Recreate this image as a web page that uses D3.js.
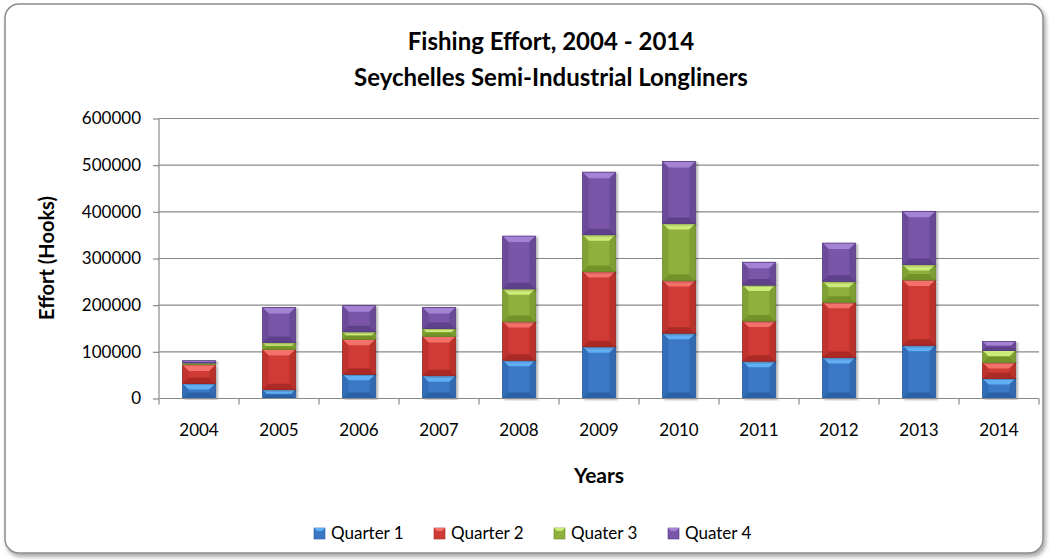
<!DOCTYPE html>
<html><head><meta charset="utf-8">
<script src="https://cdn.jsdelivr.net/npm/d3@7"></script>
<style>body{margin:0;background:#fff;}svg{display:block;font-family:Lato,"Open Sans",sans-serif;}</style>
</head><body><svg id="c" width="1050" height="560"></svg>
<script>
const years = ["2004","2005","2006","2007","2008","2009","2010","2011","2012","2013","2014"];
const quarter1 = [32000,19000,52000,49000,82000,111000,140000,80000,88000,114000,43000];
const quarter2 = [40000,86000,75000,84000,83000,161000,113000,86000,118000,140000,34000];
const quarter3 = [4000,15000,16000,17000,70000,79000,122000,77000,45000,33000,26000];
const quarter4 = [5000,75000,56000,45000,113000,134000,133000,49000,82000,114000,19000];
const seriesNames = ["Quarter 1","Quarter 2","Quater 3","Quater 4"];
const yTicks = [0,100000,200000,300000,400000,500000,600000];

const colors = [
  {base:"#3A78C6", light:"#62AEF2", dark:"#255A9E"},
  {base:"#D13B36", light:"#F3716A", dark:"#9E2522"},
  {base:"#8EB13C", light:"#CCEB78", dark:"#6A8A24"},
  {base:"#7A55A8", light:"#A583D4", dark:"#573A82"}
];

const svg = d3.select("#c");
const defs = svg.append("defs");
const f = defs.append("filter").attr("id","sh").attr("x","-10%").attr("y","-10%").attr("width","130%").attr("height","130%");
f.append("feDropShadow").attr("dx",2).attr("dy",3).attr("stdDeviation",2).attr("flood-color","#000").attr("flood-opacity",0.35);
const f2 = defs.append("filter").attr("id","bsh").attr("x","-20%").attr("y","-5%").attr("width","150%").attr("height","110%");
f2.append("feDropShadow").attr("dx",2).attr("dy",1).attr("stdDeviation",1.2).attr("flood-color","#000").attr("flood-opacity",0.3);

// chart frame
svg.append("rect").attr("x",5).attr("y",4).attr("width",1038).attr("height",549).attr("rx",14)
  .attr("fill","#fff").attr("stroke","#8c8c8c").attr("stroke-width",1.5).attr("filter","url(#sh)");

const m = {left:159, right:1039, top:118.5, bottom:398.5};
const x = d3.scaleBand().domain(years).range([m.left,m.right]).paddingInner(0.59).paddingOuter(0.295);
const xb = d3.scaleBand().domain(years).range([m.left,m.right]);
const y = d3.scaleLinear().domain([0,600000]).range([m.bottom,m.top]);

// gridlines
svg.append("g").selectAll("line").data(yTicks.slice(1)).join("line")
  .attr("x1",m.left).attr("x2",m.right).attr("y1",d=>y(d)).attr("y2",d=>y(d))
  .attr("stroke","#8a8a8a").attr("stroke-width",1.2);

// y axis
const ya = svg.append("g").attr("transform",`translate(${m.left},0)`)
  .call(d3.axisLeft(y).tickValues(yTicks).tickSize(6).tickPadding(12).tickFormat(d3.format("d")));
ya.select(".domain").attr("stroke","#8a8a8a").attr("stroke-width",1.2).attr("d",`M0,${m.top}V${m.bottom}`);
ya.selectAll(".tick line").attr("stroke","#8a8a8a").attr("stroke-width",1.2);
ya.selectAll("text").attr("font-size",17).attr("fill","#000").attr("font-family","Lato,'Open Sans',sans-serif");

// stacked data
const rows = years.map((yr,i)=>({year:yr, q1:quarter1[i], q2:quarter2[i], q3:quarter3[i], q4:quarter4[i]}));
const stack = d3.stack().keys(["q1","q2","q3","q4"])(rows);

const bars = svg.append("g");
stack.forEach((s,si)=>{
  const c = colors[si];
  const g = bars.append("g");
  s.forEach(d=>{
    const x0 = x(d.data.year), w = x.bandwidth();
    const yt = y(d[1]), yb = y(d[0]), h = yb-yt;
    const e = Math.min(6, h/2.2);
    const gg = g.append("g").attr("filter","url(#bsh)");
    gg.append("rect").attr("x",x0).attr("y",yt).attr("width",w).attr("height",h).attr("fill",c.base);
    gg.append("polygon").attr("points",`${x0},${yt} ${x0+w},${yt} ${x0+w-e},${yt+e} ${x0+e},${yt+e}`).attr("fill",c.light);
    gg.append("polygon").attr("points",`${x0},${yb} ${x0+w},${yb} ${x0+w-e},${yb-e} ${x0+e},${yb-e}`).attr("fill",c.dark).attr("opacity",0.75);
    gg.append("polygon").attr("points",`${x0},${yt} ${x0+e},${yt+e} ${x0+e},${yb-e} ${x0},${yb}`).attr("fill",c.dark).attr("opacity",0.35);
    gg.append("polygon").attr("points",`${x0+w},${yt} ${x0+w-e},${yt+e} ${x0+w-e},${yb-e} ${x0+w},${yb}`).attr("fill",c.dark).attr("opacity",0.45);
    gg.append("rect").attr("x",x0).attr("y",yt).attr("width",w).attr("height",h).attr("fill","none").attr("stroke",c.dark).attr("stroke-width",0.8);
  });
});

// x axis
const xa = svg.append("g").attr("transform",`translate(0,${m.bottom})`)
  .call(d3.axisBottom(x).tickSize(0).tickPadding(25));
xa.select(".domain").attr("stroke","#8a8a8a").attr("stroke-width",1.2).attr("d",`M${m.left},0H${m.right}`);
xa.selectAll("text").attr("font-size",17).attr("fill","#000").attr("font-family","Lato,'Open Sans',sans-serif");
const bounds = years.map(d=>xb(d)).concat([m.right]);
xa.append("g").selectAll("line").data(bounds).join("line")
  .attr("x1",d=>d).attr("x2",d=>d).attr("y1",0).attr("y2",6).attr("stroke","#8a8a8a").attr("stroke-width",1.2);

// titles
svg.append("text").attr("x",551).attr("y",50).attr("text-anchor","middle").attr("font-size",24).attr("font-weight","bold").text("Fishing Effort, 2004 - 2014");
svg.append("text").attr("x",551).attr("y",86).attr("text-anchor","middle").attr("font-size",24).attr("font-weight","bold").text("Seychelles Semi-Industrial Longliners");
svg.append("text").attr("x",599).attr("y",483).attr("text-anchor","middle").attr("font-size",21).attr("font-weight","bold").text("Years");
svg.append("text").attr("transform","translate(54,258) rotate(-90)").attr("text-anchor","middle").attr("font-size",20).attr("font-weight","bold").text("Effort (Hooks)");

// legend
const legX = [314,434,554,668];
const lg = svg.append("g");
seriesNames.forEach((n,i)=>{
  const c = colors[i];
  const gx = legX[i], gy = 528;
  lg.append("rect").attr("x",gx).attr("y",gy).attr("width",11).attr("height",11).attr("fill",c.base).attr("stroke",c.dark).attr("stroke-width",0.6);
  lg.append("polygon").attr("points",`${gx},${gy} ${gx+11},${gy} ${gx+8},${gy+3} ${gx+3},${gy+3}`).attr("fill",c.light);
  lg.append("text").attr("x",gx+17).attr("y",gy+11).attr("font-size",17).text(n);
});
</script></body></html>
